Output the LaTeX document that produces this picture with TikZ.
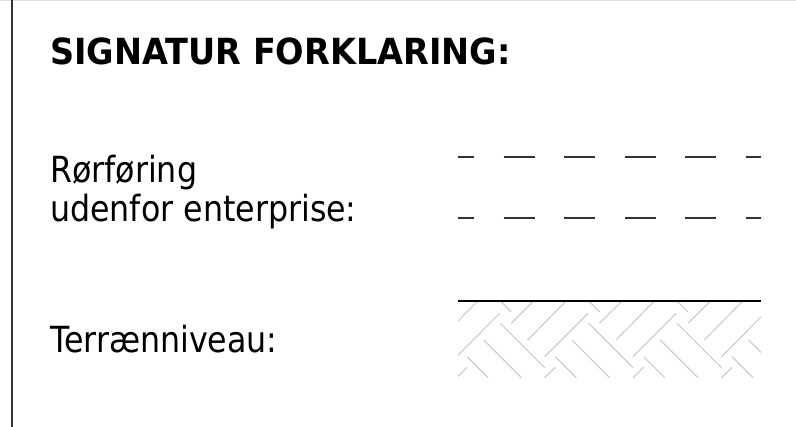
\documentclass[tikz,border=0pt]{standalone}
\usepackage{fontspec}
\setmainfont{DejaVu Sans}[FakeStretch=0.88]
\newfontfamily\titelfont{DejaVu Sans}[FakeStretch=0.93]
\usetikzlibrary{calc}
\tikzset{
	tekst/.style={anchor=base west,inner sep=0pt,font=\fontsize{36}{42}\selectfont},
	stiplet/.style={black!80,line width=2pt,dash pattern=on 31pt off 29.5pt,dash phase=15pt},
	skravur/.style={black!22,line width=1pt},
	terraen/.style={black,line width=1.5pt}
}
\newcommand{\Stiplet}[2]{\draw[stiplet] (#1) -- (#2)}
\newcommand{\Parket}[1]{\draw[skravur,shift={(\xA+#1,301)}] (53.3,22.3) -- (75.7,0) (69.7,39) -- (108,0) (86.7,55.7) -- (130,12.3) (86.3,77.3) -- (97.3,66.3) (42.3,0) -- (53.3,11) (9,55.7) -- (30,76.7) (25.7,39) -- (63.3,76.7) (42.3,22.3) -- (86.7,66.7)}
\begin{document}
\begin{tikzpicture}[x=1pt,y=-1pt]
	\def\bredde{796}
	\def\hoejde{427}
	\def\xA{458}
	\def\xB{761}
\useasboundingbox (0,0) rectangle (\bredde,\hoejde);

%Ramme
\draw[black!12,line width=1pt] (0,0.5) -- (\bredde,0.5);
\draw[black!80,line width=2pt] (11.5,0) -- (11.5,\hoejde);

%Tekster
\node[tekst,font=\titelfont\bfseries\fontsize{36}{42}\selectfont] (titel) at (50,65) {SIGNATUR FORKLARING:};
\node[tekst] (roer) at (50,183) {Rørføring};
\node[tekst] (udenfor) at (50,222) {udenfor enterprise:};
\node[tekst] (terr) at (50,353) {Terrænniveau:};

%Signaturer
\coordinate (S1) at (\xA,157);
\coordinate (S2) at (\xB,157);
\coordinate (S3) at (\xA,218);
\coordinate (S4) at (\xB,218);
\coordinate (T1) at (\xA,301);
\coordinate (T2) at (\xB,301);

\Stiplet{S1}{S2};
\Stiplet{S3}{S4};

%Terraen
\begin{scope}
\clip (T1) rectangle (\xB,377.5);
\foreach \p in {-88.3,0,88.3,176.7,265} {\Parket{\p};}
\end{scope}
\draw[terraen] (T1) -- (T2);

\end{tikzpicture}
\end{document}
